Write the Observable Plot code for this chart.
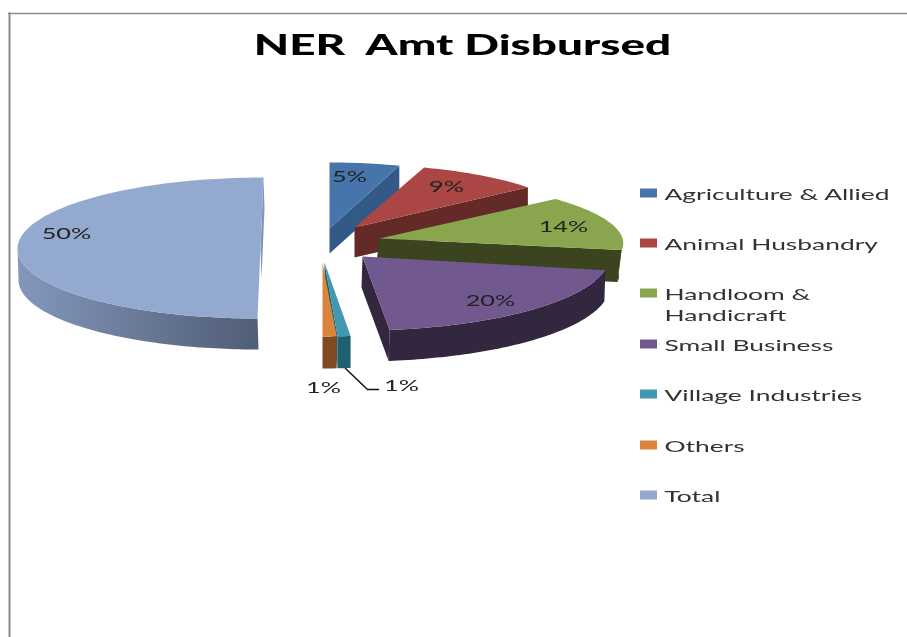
<!DOCTYPE html>
<html>
<head>
<meta charset="utf-8">
<script src="https://cdn.jsdelivr.net/npm/d3@7"></script>
<script src="https://cdn.jsdelivr.net/npm/@observablehq/plot@0.6"></script>
<style>
html,body{margin:0;padding:0;background:#fff;overflow:hidden}
svg{display:block;filter:blur(0.5px)}
</style>
</head>
<body>
<div id="chart"></div>
<script>
const chartTitle = "NER  Amt Disbursed";
const categories = ["Agriculture & Allied","Animal Husbandry","Handloom &\nHandicraft","Small Business","Village Industries","Others","Total"];
const percents = [5,9,14,20,1,1,50];
const faceColors = ["#4674AB","#AA4643","#89A54E","#71588F","#4198AF","#DB843D","#93A9CF"];
const wallColors = ["#335A86","#632A28","#3B441F","#33263F","#1F5F70","#7E4B22","url(#totalWall)"];
const endWallColors = ["#335A86","#632A28","#3B441F","#33263F","#1F5F70","#7E4B22","#8195B8"];

// Layout of the exploded, perspective-tilted slices (apex, radii, skew, wall depth)
const sliceLayout = [
  {ax:329,ay:228,rx:226,ry:66,sk:0,d:25,dx:0},
  {ax:354,ay:227,rx:225,ry:63,sk:0,d:30,dx:0},
  {ax:379,ay:238,rx:243,ry:62,sk:-17.5,d:32,dx:-4},
  {ax:362,ay:256,rx:248,ry:74,sk:4,d:31,dx:-1},
  {ax:324,ay:262,rx:208,ry:74,sk:0,d:32,dx:0},
  {ax:322,ay:262,rx:226,ry:74,sk:0,d:32,dx:0},
  {ax:260,ay:247.5,rx:243,ry:70.5,sk:3,d:31,dx:1}
];
const labelX = [349,446,563,490,401,323,66];
const labelY = [176,186,226,300,385,387,233];
const legendSwatchY = [193,243,293,344,394,445,495];
const legendTextY = [193,243,303.5,344,394,445,495];

const arcs = d3.pie().sort(null).value(d => d)(percents);
const rim = (s, t) => [s.ax + s.rx*Math.sin(t) + s.sk*Math.cos(t), s.ay - s.ry*Math.cos(t)];
const down = (s, p) => [p[0] + s.dx, p[1] + s.d];
function sweep(a, b) {
  const n = Math.max(2, Math.ceil((b - a) / 0.02));
  return d3.range(n + 1).map(i => a + (b - a) * i / n);
}
function poly(points, fill) {
  return Plot.line(points, {x: d => d[0], y: d => d[1], fill, stroke: "none", curve: "linear-closed"});
}

const sliceMarks = [];
arcs.forEach((arc, i) => {
  const s = sliceLayout[i], a = arc.startAngle, b = arc.endAngle;
  const apex = [s.ax, s.ay];
  const end = rim(s, b);
  sliceMarks.push(poly([apex, end, down(s, end), down(s, apex)], endWallColors[i]));
  const wa = Math.max(a, Math.PI/2), wb = Math.min(b, 3*Math.PI/2);
  if (wb > wa) {
    const top = sweep(wa, wb).map(t => rim(s, t));
    sliceMarks.push(poly([...top, ...top.slice().reverse().map(p => down(s, p))], wallColors[i]));
  }
  sliceMarks.push(poly([apex, ...sweep(a, b).map(t => rim(s, t))], faceColors[i]));
});

function gradientDefs() {
  const defs = d3.create("svg:defs");
  const g = defs.append("linearGradient").attr("id","totalWall")
    .attr("gradientUnits","userSpaceOnUse")
    .attr("x1",17).attr("x2",257).attr("y1",0).attr("y2",0);
  g.append("stop").attr("offset","0%").attr("stop-color","#8497BB");
  g.append("stop").attr("offset","100%").attr("stop-color","#505D76");
  return defs.node();
}

const rows = categories.map((c, i) => ({c, i}));
const font = "Lato";
const plot = Plot.plot({
  width: 907, height: 637,
  margin: 0,
  x: {domain: [0, 907], range: [0, 907], axis: null},
  y: {domain: [0, 637], range: [0, 637], axis: null},
  style: {background: "#fff"},
  marks: [
    gradientDefs,
    Plot.ruleX([9], {y1: 12.5, y2: 637, stroke: "#8a8a8a", strokeWidth: 2}),
    Plot.ruleY([13], {x1: 8, x2: 907, stroke: "#8a8a8a", strokeWidth: 1.5}),
    ...sliceMarks,
    Plot.line([[345,368],[367,389],[378,389]], {x: d => d[0], y: d => d[1], stroke: "#111", strokeWidth: 1.5}),
    Plot.text(percents, {className: "pct", x: (d,i) => labelX[i], y: (d,i) => labelY[i], text: d => d + "%", fill: "#222", fontSize: 16, fontFamily: font}),
    Plot.text([chartTitle], {className: "ttl", x: [462], y: [45], text: d => d, fill: "#000", fontSize: 29, fontWeight: 900, fontFamily: font}),
    Plot.rect(rows, {x1: () => 640, x2: () => 657, y1: d => legendSwatchY[d.i] - 4.5, y2: d => legendSwatchY[d.i] + 4.5, fill: d => faceColors[d.i]}),
    Plot.text(rows, {className: "leg", x: () => 664, y: d => legendTextY[d.i], text: d => d.c, textAnchor: "start", fill: "#333", fontSize: 16, lineHeight: 1.28, fontFamily: font})
  ]
});
document.getElementById("chart").append(plot);

// Reference text is horizontally stretched: widen every run by a constant factor.
function widen(cls, factor) {
  plot.querySelectorAll(`.${cls} text`).forEach(t => {
    const runs = t.querySelectorAll("tspan");
    (runs.length ? [...runs] : [t]).forEach(r => {
      r.setAttribute("textLength", r.getComputedTextLength() * factor);
      r.setAttribute("lengthAdjust", "spacingAndGlyphs");
    });
  });
}
widen("pct", 1.58);
widen("ttl", 1.58);
widen("leg", 1.65);
</script>
</body>
</html>
